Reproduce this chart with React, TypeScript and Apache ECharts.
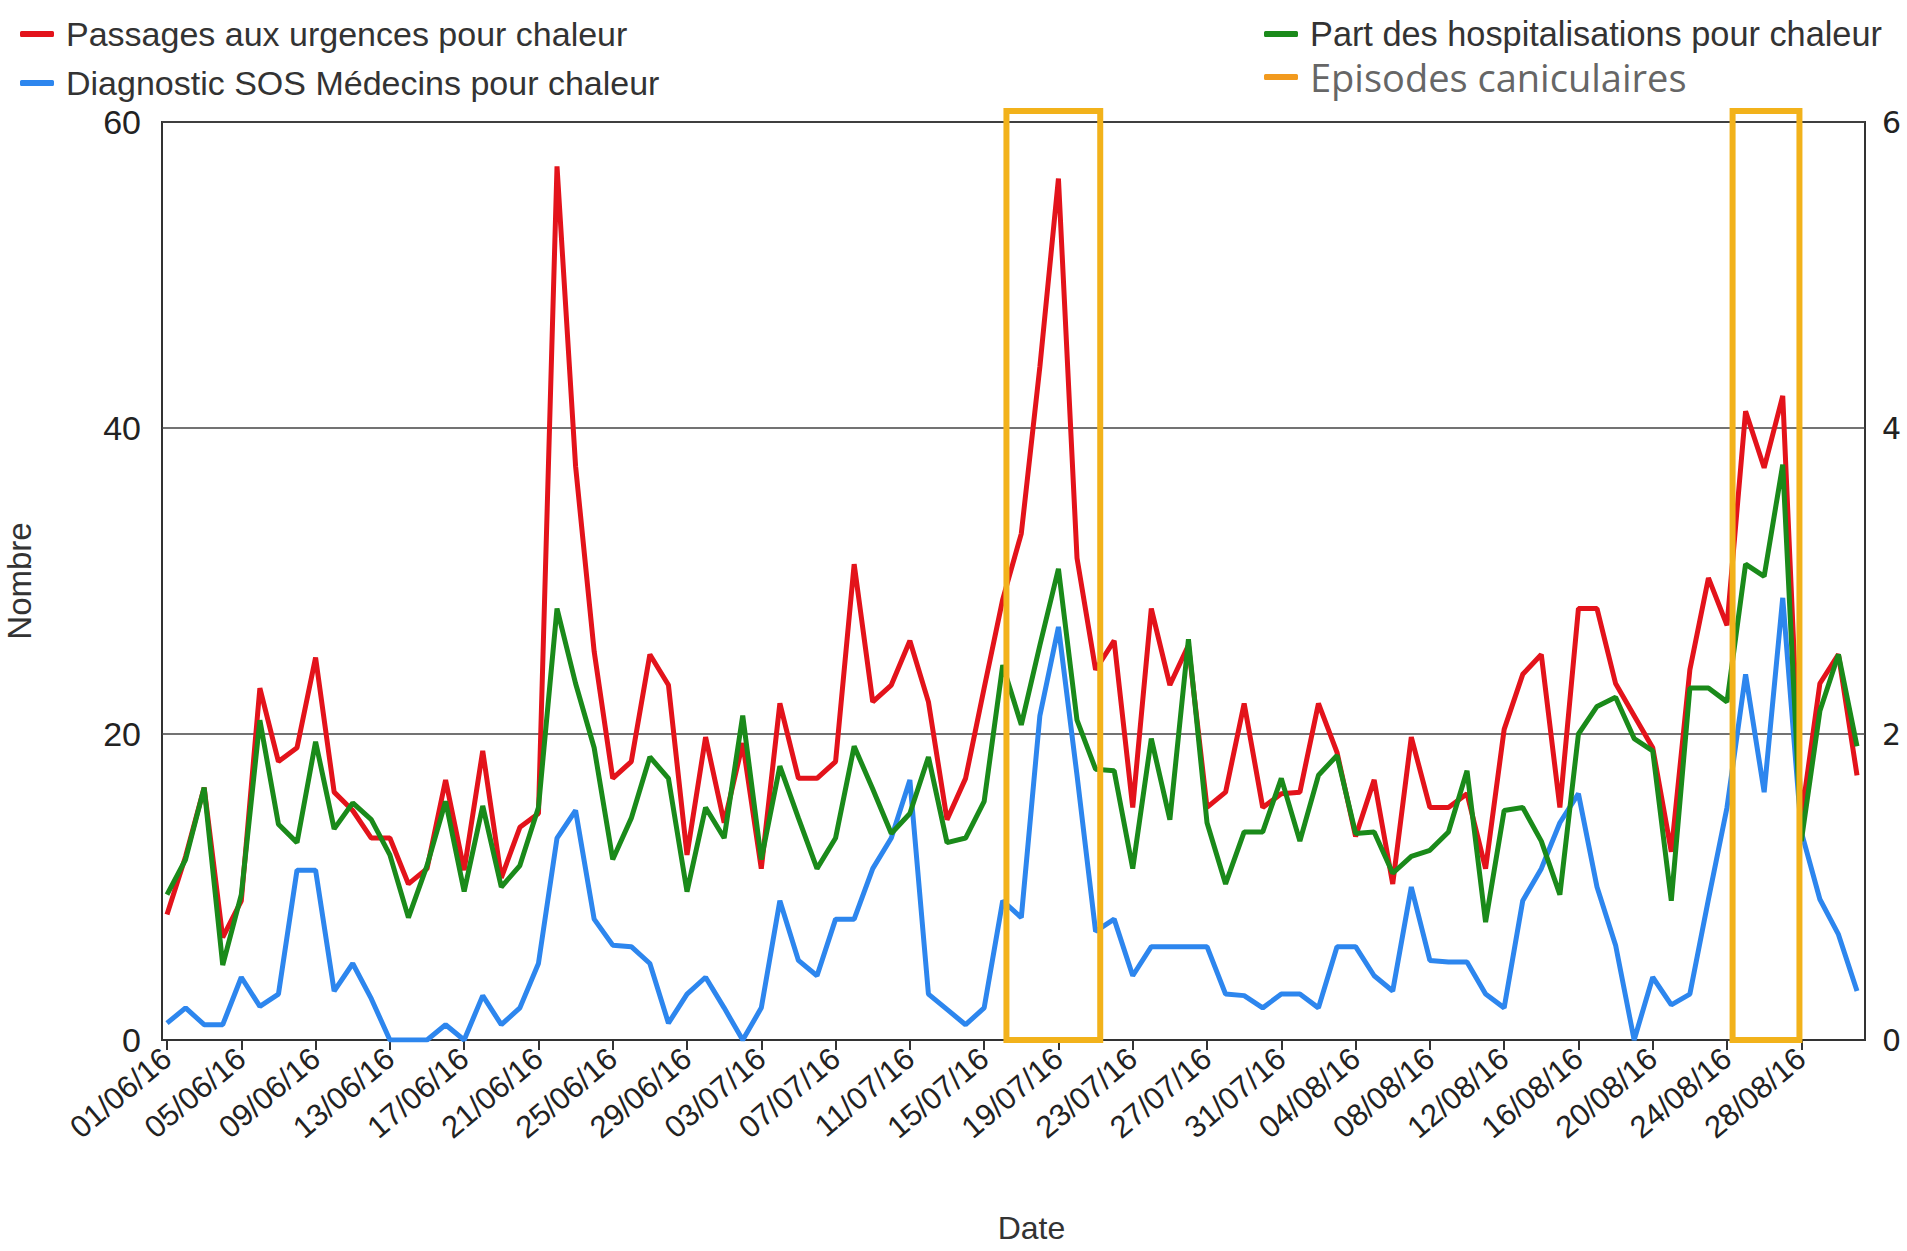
import React, { useEffect, useRef } from "react";
import * as echarts from "echarts";

const dates = [
  "01/06/16","02/06/16","03/06/16","04/06/16","05/06/16","06/06/16","07/06/16","08/06/16","09/06/16","10/06/16",
  "11/06/16","12/06/16","13/06/16","14/06/16","15/06/16","16/06/16","17/06/16","18/06/16","19/06/16","20/06/16",
  "21/06/16","22/06/16","23/06/16","24/06/16","25/06/16","26/06/16","27/06/16","28/06/16","29/06/16","30/06/16",
  "01/07/16","02/07/16","03/07/16","04/07/16","05/07/16","06/07/16","07/07/16","08/07/16","09/07/16","10/07/16",
  "11/07/16","12/07/16","13/07/16","14/07/16","15/07/16","16/07/16","17/07/16","18/07/16","19/07/16","20/07/16",
  "21/07/16","22/07/16","23/07/16","24/07/16","25/07/16","26/07/16","27/07/16","28/07/16","29/07/16","30/07/16",
  "31/07/16","01/08/16","02/08/16","03/08/16","04/08/16","05/08/16","06/08/16","07/08/16","08/08/16","09/08/16",
  "10/08/16","11/08/16","12/08/16","13/08/16","14/08/16","15/08/16","16/08/16","17/08/16","18/08/16","19/08/16",
  "20/08/16","21/08/16","22/08/16","23/08/16","24/08/16","25/08/16","26/08/16","27/08/16","28/08/16","29/08/16",
  "30/08/16","31/08/16"
];

const tickLabels = [
  "01/06/16","05/06/16","09/06/16","13/06/16","17/06/16","21/06/16","25/06/16","29/06/16",
  "03/07/16","07/07/16","11/07/16","15/07/16","19/07/16","23/07/16","27/07/16","31/07/16",
  "04/08/16","08/08/16","12/08/16","16/08/16","20/08/16","24/08/16","28/08/16"
];

// Passages aux urgences pour chaleur (left axis)
const passages = [
  8.2, 12, 16.5, 6.7, 9.1, 23.0, 18.2, 19.1, 25.0, 16.2,
  15.0, 13.2, 13.2, 10.2, 11.2, 17.0, 11.1, 18.9, 10.6, 13.9,
  14.8, 57.1, 37.5, 25.4, 17.1, 18.2, 25.2, 23.2, 12.1, 19.8,
  14.2, 19.4, 11.2, 22.0, 17.1, 17.1, 18.2, 31.1, 22.1, 23.2,
  26.1, 22.1, 14.4, 17.1, 23.0, 28.8, 33.1, 44.0, 56.3, 31.5,
  24.2, 26.1, 15.2, 28.2, 23.2, 25.8, 15.2, 16.2, 22.0, 15.2,
  16.1, 16.2, 22.0, 18.8, 13.3, 17.0, 10.2, 19.8, 15.2, 15.2,
  16.1, 11.2, 20.3, 23.9, 25.2, 15.2, 28.2, 28.2, 23.3, 21.2,
  19.1, 12.3, 24.2, 30.2, 27.1, 41.1, 37.4, 42.1, 14.5, 23.3,
  25.2, 17.3
];

// Diagnostic SOS Médecins pour chaleur (left axis)
const sosMedecins = [
  1.1, 2.1, 1.0, 1.0, 4.1, 2.2, 3.0, 11.1, 11.1, 3.2,
  5.0, 2.7, 0, 0, 0, 1.0, 0, 2.9, 1.0, 2.1,
  5.0, 13.2, 15.0, 7.9, 6.2, 6.1, 5.0, 1.1, 3.0, 4.1,
  2.1, 0, 2.1, 9.1, 5.2, 4.2, 7.9, 7.9, 11.2, 13.2,
  17.0, 3.0, 2.0, 1.0, 2.1, 9.1, 8.0, 21.2, 27.0, 17.3,
  7.1, 7.9, 4.2, 6.1, 6.1, 6.1, 6.1, 3.0, 2.9, 2.1,
  3.0, 3.0, 2.1, 6.1, 6.1, 4.2, 3.2, 10.0, 5.2, 5.1,
  5.1, 3.0, 2.1, 9.1, 11.2, 14.2, 16.1, 10.0, 6.2, 0,
  4.1, 2.3, 3.0, 9.2, 15.2, 23.9, 16.2, 28.9, 13.6, 9.2,
  6.9, 3.2
];

// Part des hospitalisations pour chaleur (right axis)
const partHospit = [
  0.95, 1.18, 1.65, 0.49, 0.95, 2.09, 1.41, 1.29, 1.95, 1.38,
  1.55, 1.44, 1.21, 0.80, 1.14, 1.56, 0.97, 1.53, 1.00, 1.14,
  1.52, 2.82, 2.33, 1.91, 1.18, 1.45, 1.85, 1.71, 0.97, 1.52,
  1.32, 2.12, 1.18, 1.79, 1.45, 1.12, 1.32, 1.92, 1.64, 1.35,
  1.48, 1.85, 1.29, 1.32, 1.56, 2.45, 2.06, 2.58, 3.08, 2.09,
  1.77, 1.76, 1.12, 1.97, 1.44, 2.62, 1.42, 1.02, 1.36, 1.36,
  1.71, 1.30, 1.73, 1.86, 1.35, 1.36, 1.09, 1.20, 1.24, 1.36,
  1.76, 0.77, 1.50, 1.52, 1.30, 0.95, 2.00, 2.18, 2.24, 1.97,
  1.89, 0.91, 2.30, 2.30, 2.21, 3.11, 3.03, 3.76, 1.30, 2.15,
  2.52, 1.92
];

// Episodes caniculaires (start / end, in day index along the date axis)
const episodeStart = [45.2, 84.3];
const episodeEnd = [50.25, 87.9];

const FONT = "'Liberation Sans', Arial, Helvetica, sans-serif";

export default function App() {
  const ref = useRef<HTMLDivElement>(null);

  useEffect(() => {
    if (!ref.current) return;
    const chart = echarts.init(ref.current, undefined, { renderer: "svg" });
    const tickIdx = tickLabels.map((t) => dates.indexOf(t));
    const toPairs = (arr: number[]) => arr.map((v, i) => [i, v]);

    const option: any = {
      animation: false,
      backgroundColor: "#ffffff",
      textStyle: { fontFamily: FONT },
      legend: [
        {
          left: 15,
          top: 11,
          orient: "vertical",
          icon: "roundRect",
          itemWidth: 34,
          itemHeight: 6,
          itemGap: 13,
          selectedMode: false,
          textStyle: { fontFamily: FONT, fontSize: 34, color: "#333", lineHeight: 36, padding: [0, 0, 0, 7] },
          data: ["Passages aux urgences pour chaleur", "Diagnostic SOS Médecins pour chaleur"],
        },
        {
          left: 1259,
          top: 11,
          orient: "vertical",
          icon: "roundRect",
          itemWidth: 34,
          itemHeight: 6,
          itemGap: 6,
          selectedMode: false,
          textStyle: { fontFamily: FONT, fontSize: 34.3, color: "#333", lineHeight: 36, padding: [0, 0, 0, 7] },
          data: [
            "Part des hospitalisations pour chaleur",
            {
              name: "Episodes caniculaires",
              itemStyle: { color: "#F29A1E" },
              textStyle: { fontFamily: "'Open Sans', sans-serif", fontSize: 38, color: "#666666", lineHeight: 36 },
            },
          ],
        },
      ],
      grid: {
        left: 162,
        right: 42,
        top: 122,
        bottom: 211,
        outerBoundsMode: "none",
        containLabel: false,
        show: true,
        borderColor: "#333",
        borderWidth: 2,
      },
      xAxis: {
        type: "value",
        min: -0.27,
        max: 91.43,
        name: "Date",
        nameLocation: "middle",
        nameGap: 175,
        nameTextStyle: { fontFamily: FONT, fontSize: 32, lineHeight: 26, color: "#333", padding: [0, 0, 0, 36] },
        axisLine: { show: true, lineStyle: { color: "#333", width: 2 } },
        axisTick: { show: true, customValues: tickIdx, length: 10, lineStyle: { color: "#333", width: 2 } },
        axisLabel: {
          customValues: tickIdx,
          rotate: 40,
          fontSize: 31,
          color: "#222",
          margin: 14,
          fontFamily: FONT,
          padding: [6, 0, 0, 0],
          formatter: (v: number) => dates[Math.round(v)] || "",
        },
        splitLine: { show: false },
      },
      yAxis: [
        {
          type: "value",
          min: 0,
          max: 60,
          interval: 20,
          name: "Nombre",
          nameLocation: "middle",
          nameGap: 128,
          nameTextStyle: { fontFamily: FONT, fontSize: 33, lineHeight: 30, color: "#333" },
          axisLine: { show: false },
          axisTick: { show: false },
          axisLabel: { fontSize: 34, color: "#222", margin: 21, fontFamily: FONT },
          splitLine: { show: true, lineStyle: { color: "#444", width: 1.6 } },
        },
        {
          type: "value",
          min: 0,
          max: 6,
          interval: 2,
          position: "right",
          axisLine: { show: false },
          axisTick: { show: false },
          axisLabel: { fontSize: 30, color: "#222", margin: 17, fontFamily: "'DejaVu Sans', sans-serif" },
          splitLine: { show: false },
        },
      ],
      series: [
        {
          name: "Passages aux urgences pour chaleur",
          type: "line",
          yAxisIndex: 0,
          data: toPairs(passages),
          showSymbol: false,
          symbol: "none",
          lineStyle: { color: "#E3131B", width: 5 },
          itemStyle: { color: "#E3131B" },
          z: 3,
        },
        {
          name: "Part des hospitalisations pour chaleur",
          type: "line",
          yAxisIndex: 1,
          data: toPairs(partHospit),
          showSymbol: false,
          symbol: "none",
          lineStyle: { color: "#1A8A1A", width: 5 },
          itemStyle: { color: "#1A8A1A" },
          z: 4,
        },
        {
          name: "Diagnostic SOS Médecins pour chaleur",
          type: "line",
          yAxisIndex: 0,
          data: toPairs(sosMedecins),
          showSymbol: false,
          symbol: "none",
          lineStyle: { color: "#2D86EE", width: 5 },
          itemStyle: { color: "#2D86EE" },
          z: 3,
        },
        {
          name: "Episodes caniculaires",
          type: "custom",
          xAxisIndex: 0,
          yAxisIndex: 0,
          clip: false,
          z: 10,
          itemStyle: { color: "#F29A1E" },
          encode: { x: [0, 1] },
          data: episodeStart.map((s, i) => [s, episodeEnd[i]]),
          renderItem: (params: any, api: any) => {
            const p0 = api.coord([api.value(0), 60]);
            const p1 = api.coord([api.value(1), 0]);
            return {
              type: "rect",
              shape: { x: p0[0], y: p0[1] - 11, width: p1[0] - p0[0], height: p1[1] - p0[1] + 11 },
              style: { fill: "none", stroke: "#F2B21B", lineWidth: 6 },
            };
          },
        },
      ],
    };

    chart.setOption(option);
    return () => chart.dispose();
  }, []);

  return (
    <div
      ref={ref}
      style={{ position: "fixed", left: 0, top: 0, width: 1907, height: 1251, background: "#fff" }}
    />
  );
}
